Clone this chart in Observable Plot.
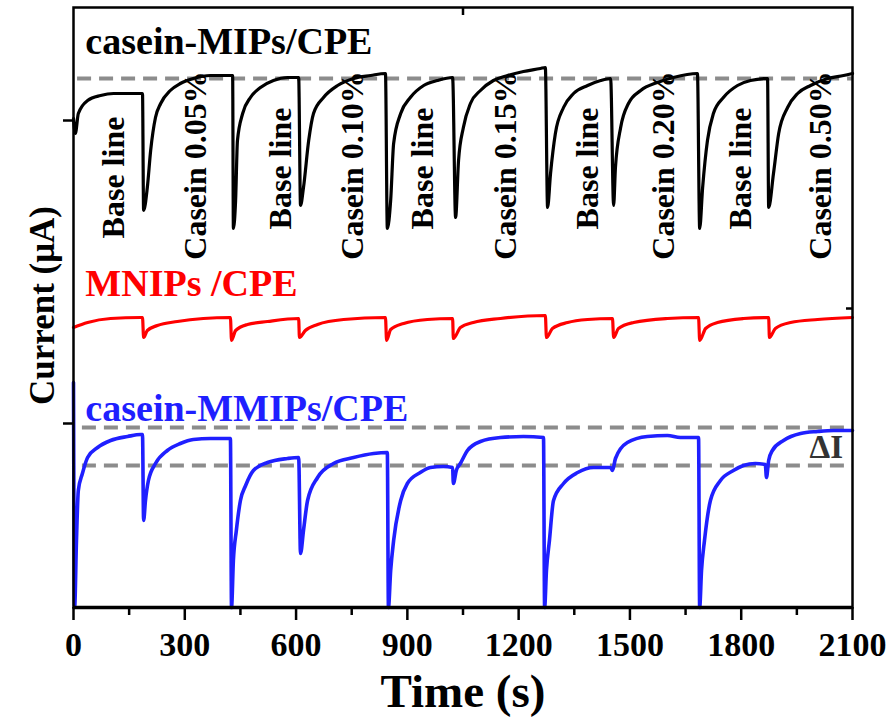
<!DOCTYPE html>
<html><head><meta charset="utf-8">
<script src="https://cdn.jsdelivr.net/npm/d3@7"></script>
<script src="https://cdn.jsdelivr.net/npm/@observablehq/plot@0.6"></script>
<style>body{margin:0;background:#fff}</style>
</head><body><div id="chart"></div>
<script>
// ---- data (time in s, current in arbitrary units) ----
const timeTicks = [0, 300, 600, 900, 1200, 1500, 1800, 2100];
const timeMinorTicks = [150, 450, 750, 1050, 1350, 1650, 1950];
const leftCurrentTicks = [48.7, 18.4];
const rightCurrentTicks = [29.9];
const topTimeTicks = [1050];

const mipsTrace = [[0,48.9],[5,47.4],[13,49.4],[38,50.7],[73,51.2],[108,51.4],[181,51.4],[186,51.4],
[189,39.7],[199,42.0],[208,45.7],[221,49.0],[235,50.4],[261,51.7],[288,52.4],[323,52.9],[369,53.2],[429,53.2],
[431,37.9],[437,40.7],[442,46.7],[456,49.4],[477,51.0],[504,52.0],[539,52.7],[577,53.0],[607,53.0],
[612,40.2],[620,42.0],[634,46.7],[647,49.4],[674,51.0],[712,52.2],[755,52.9],[801,53.2],[841,53.4],
[846,37.9],[855,40.7],[863,46.4],[882,49.4],[908,51.0],[944,52.2],[981,52.7],[1022,53.0],
[1030,39.0],[1038,44.7],[1051,48.0],[1070,50.4],[1097,51.7],[1132,52.7],[1170,53.2],[1213,53.6],[1259,53.9],[1272,54.0],
[1278,40.0],[1286,43.4],[1299,47.4],[1321,50.0],[1348,51.4],[1386,52.2],[1421,52.7],[1448,52.9],
[1456,40.2],[1461,44.0],[1475,48.0],[1496,50.4],[1529,51.7],[1574,52.5],[1617,53.0],[1682,53.4],
[1688,37.9],[1696,42.0],[1709,46.7],[1725,49.4],[1752,51.0],[1790,52.2],[1825,52.7],[1871,52.9],
[1874,40.0],[1887,43.4],[1901,47.4],[1925,50.0],[1952,51.4],[1987,52.2],[2033,52.9],[2076,53.2],[2100,53.4]];

const mnipsTrace = [[0,28.0],[38,28.5],[100,28.9],[181,29.0],[186,29.0],
[189,27.0],[199,27.7],[226,28.2],[280,28.6],[350,28.9],[423,29.0],
[426,26.7],[437,27.7],[469,28.3],[523,28.6],[607,28.9],
[609,27.0],[625,27.7],[658,28.3],[728,28.8],[841,29.0],
[844,26.7],[855,27.8],[890,28.4],[954,28.8],[1022,28.9],
[1024,26.9],[1043,28.0],[1078,28.5],[1151,28.9],[1272,29.2],
[1275,27.0],[1291,27.9],[1332,28.5],[1386,28.8],[1453,28.9],
[1456,27.0],[1469,27.9],[1510,28.5],[1601,28.9],[1685,29.0],
[1688,26.7],[1704,27.9],[1736,28.5],[1806,28.9],[1874,29.0],
[1876,27.0],[1892,27.9],[1933,28.5],[2006,28.8],[2100,29.0]];

const mmipsTrace = [[0,22.5],[3,0],[8,6.7],[13,11.7],[24,13.4],[38,15.0],[65,16.0],[100,16.7],[146,17.1],[181,17.3],[186,17.3],
[189,8.7],[194,10.7],[202,12.7],[221,14.4],[253,15.7],[288,16.4],[323,16.8],[369,16.9],[423,16.9],
[426,0],[431,4.7],[439,7.7],[450,10.7],[464,12.2],[485,13.7],[523,14.5],[577,14.9],[607,15.0],
[612,5.4],[620,7.7],[631,10.7],[658,13.0],[701,14.4],[755,15.0],[809,15.4],[846,15.5],
[849,0],[855,3.7],[863,6.7],[882,10.7],[900,12.4],[935,13.5],[962,14.0],[997,14.1],[1022,14.0],
[1024,12.4],[1032,13.7],[1043,14.4],[1062,15.7],[1097,16.6],[1151,17.0],[1213,17.1],[1267,17.0],
[1270,0],[1275,3.7],[1283,6.7],[1294,10.7],[1321,12.4],[1359,13.5],[1402,14.0],[1448,14.0],
[1453,13.7],[1461,14.9],[1493,16.5],[1547,17.1],[1601,17.2],[1636,17.0],[1685,17.0],
[1688,0],[1693,3.7],[1701,6.7],[1717,10.7],[1744,12.7],[1779,13.7],[1806,14.2],[1838,14.4],[1865,14.3],
[1868,13.0],[1874,14.7],[1884,15.7],[1914,16.7],[1960,17.4],[2006,17.6],[2049,17.7],[2100,17.7]];

const mipsRef = 52.9;
const mmipsRefs = [18.0, 14.2];
const refStartMips = 11, refStartMmips = 24;

const baseLineT = [108, 558, 941, 1386, 1798];
const baseLineI = [43.0, 43.9, 43.9, 43.9, 43.9];
const caseinLabels = ["Casein 0.05%", "Casein 0.10%", "Casein 0.15%", "Casein 0.20%", "Casein 0.50%"];
const caseinT = [329, 752, 1165, 1590, 2014];
const caseinI = 44.2;

const seriesNames = ["casein-MIPs/CPE", "MNIPs /CPE", "casein-MMIPs/CPE"];
const seriesColors = ["#000000", "#ff0000", "#1f1fff"];
const seriesLabelT = [32, 32, 32];
const seriesLabelI = [55.4, 31.2, 18.7];
const deltaLabel = {text: "ΔI", t: 1984, i: 15.0};

// ---- build ----
const serif = "'Liberation Serif','Times New Roman',serif";
const refRows = [
  {x1: refStartMips, x2: 2100, y: mipsRef},
  ...mmipsRefs.map(v => ({x1: refStartMmips, x2: 2100, y: v}))
];
const baseRows = baseLineT.map((t, i) => ({t, i: baseLineI[i], s: "Base line"}));
const caseinRows = caseinLabels.map((s, k) => ({t: caseinT[k], i: caseinI, s}));
const nameRows = seriesNames.map((s, k) => ({s, t: seriesLabelT[k], i: seriesLabelI[k], c: seriesColors[k]}));
const blank = () => "";

const chart = Plot.plot({
  width: 893, height: 718,
  marginLeft: 73, marginRight: 41, marginTop: 7, marginBottom: 111,
  style: {fontFamily: serif, background: "#fff", color: "#000", overflow: "visible"},
  x: {domain: [0, 2100]},
  y: {domain: [0, 60]},
  marks: [
    Plot.ruleY(refRows, {x1: "x1", x2: "x2", y: "y", stroke: "#8c8c8c", strokeWidth: 4, strokeDasharray: "14,8"}),
    Plot.line(mipsTrace, {x: d => d[0], y: d => d[1], stroke: seriesColors[0], strokeWidth: 3.2, curve: "monotone-x"}),
    Plot.line(mnipsTrace, {x: d => d[0], y: d => d[1], stroke: seriesColors[1], strokeWidth: 3.2, curve: "monotone-x"}),
    Plot.line(mmipsTrace, {x: d => d[0], y: d => d[1], stroke: seriesColors[2], strokeWidth: 3.6, curve: "monotone-x"}),
    Plot.text(baseRows, {x: "t", y: "i", text: "s", rotate: -90, textAnchor: "middle", lineAnchor: "middle",
      fontSize: 32, fontWeight: "bold", fill: "#000"}),
    Plot.text(caseinRows, {x: "t", y: "i", text: "s", rotate: -90, textAnchor: "middle", lineAnchor: "middle",
      fontSize: 32, fontWeight: "bold", fill: "#000"}),
    Plot.text(nameRows, {x: "t", y: "i", text: "s", fill: "c", textAnchor: "start", lineAnchor: "bottom",
      fontSize: 38, fontWeight: "bold"}),
    Plot.text([deltaLabel], {x: "t", y: "i", text: "text", textAnchor: "start", lineAnchor: "bottom",
      fontSize: 33, fontWeight: "bold", fill: "#333"}),
    Plot.frame({stroke: "#000", strokeWidth: 2.5}),
    Plot.ruleY([0], {stroke: "#000", strokeWidth: 3.5}),
    Plot.axisX(timeTicks, {anchor: "bottom", tickSize: 13, tickPadding: 11, strokeWidth: 2.5,
      fontSize: 34, fontWeight: "bold", label: null, tickFormat: d => String(d)}),
    Plot.axisX(timeMinorTicks, {anchor: "bottom", tickSize: 8, strokeWidth: 2.5, tickFormat: blank, label: null}),
    Plot.axisX(topTimeTicks, {anchor: "top", tickSize: -7, strokeWidth: 2.5, tickFormat: blank, label: null}),
    Plot.axisY(leftCurrentTicks, {anchor: "left", tickSize: 10, strokeWidth: 2.5, tickFormat: blank, label: null}),
    Plot.axisY(rightCurrentTicks, {anchor: "right", tickSize: -7, strokeWidth: 2.5, tickFormat: blank, label: null}),
    Plot.text(["Time (s)"], {text: d => d, frameAnchor: "bottom", lineAnchor: "bottom", dy: 99,
      fontSize: 47, fontWeight: "bold", fill: "#000"}),
    Plot.text(["Current (μA)"], {text: d => d, frameAnchor: "left", lineAnchor: "bottom", rotate: -90,
      textAnchor: "middle", dx: -20, dy: -2, fontSize: 35, fontWeight: "bold", fill: "#000"})
  ]
});
document.getElementById("chart").appendChild(chart);
</script>
</body></html>
